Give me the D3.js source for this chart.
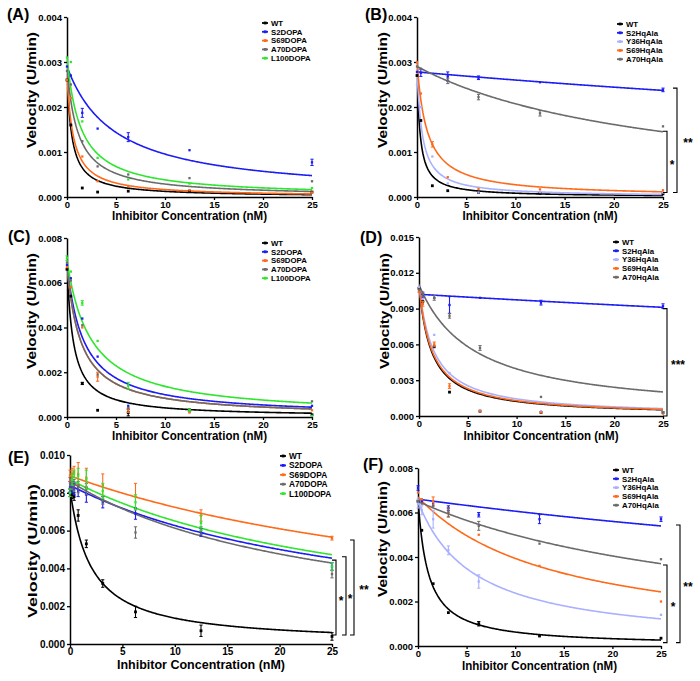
<!DOCTYPE html>
<html>
<head>
<meta charset="utf-8">
<script src="https://cdn.jsdelivr.net/npm/d3@7"></script>
<style>
body { margin: 0; background: #fff; }
text { font-family: "Liberation Sans", Arial, sans-serif; font-weight: bold; }
</style>
</head>
<body>
<svg id="chart" width="700" height="681"></svg>
<script>
// ---- data ----
var conc = [0, 0.39, 1.56, 3.125, 6.25, 12.5, 25];
var concE = [0, 0.2, 0.39, 0.78, 1.56, 3.125, 6.25, 12.5, 25];
var xTicks = [0, 5, 10, 15, 20, 25];

var dopaNames = ["WT", "S2DOPA", "S69DOPA", "A70DOPA", "L100DOPA"];
var hqNames = ["WT", "S2HqAla", "Y36HqAla", "S69HqAla", "A70HqAla"];

// panel A
var aWT = [0.0026, 0.0016, 0.0002, 0.00011, 0.00013, 0.00013, 0.00011];
var aS2 = [0.0029, 0.0027, 0.00187, 0.00152, 0.00133, 0.00104, 0.00077];
var aS69 = [0.0026, 0.0022, 0.0009, 0.00035, 0.00024, 0.00015, 0.0001];
var aA70 = [0.0028, 0.0025, 0.00124, 0.00068, 0.0005, 0.00042, 0.00035];
var aL100 = [0.0031, 0.003, 0.00168, 0.00087, 0.00039, 0.0003, 0.0002];
var aS2Err = [0, 0, 0.0001, 0, 0.0001, 0, 0.00007];
var fitTopA = [0.0028, 0.0029, 0.0027, 0.0029, 0.0031];
var fitIC50A = [0.47, 4.9, 0.65, 1.1, 1.4];

// panel B
var bWT = [0.0027, 0.0017, 0.00025, 0.00014, 0.0001, 0.00008, 0.00007];
var bS2 = [0.00278, 0.00276, null, 0.00268, 0.00265, 0.00255, 0.00238];
var bY36 = [0.0025, 0.002, 0.0009, 0.0003, 0.0001, 0.00011, 0.0001];
var bS69 = [0.003, 0.0023, 0.00117, 0.00044, 0.00018, 0.00017, 0.00015];
var bA70 = [0.0029, 0.00285, null, 0.00258, 0.00222, 0.00186, 0.00157];
var bS2Err = [0, 0.00008, 0, 0.0001, 0.00004, 0, 0.00004];
var bS69Err = [0, 0, 0.00006, 0, 0, 0, 0];
var bA70Err = [0, 0, 0, 0.00006, 0.00006, 0.00006, 0];
var fitTopB = [0.0029, 0.00278, 0.0029, 0.003, 0.0029];
var fitIC50B = [0.3, 144, 0.5, 1.0, 25];

// panel C
var cWT = [0.0066, 0.0054, 0.0015, 0.0003, 0.0002, 0.0003, 0.0001];
var cS2 = [0.0068, 0.0062, 0.0044, 0.0027, 0.0005, 0.00025, 0.0005];
var cS69 = [0.0067, 0.0058, 0.004, 0.0018, 0.0003, 0.0002, 0.0003];
var cA70 = [0.0069, 0.0061, 0.0041, 0.0019, 0.0004, 0.0003, 0.0007];
var cL100 = [0.0071, 0.0065, 0.0051, 0.0034, 0.0014, 0.0003, 0.00005];
var cWTErr = [0, 0, 0.00005, 0, 0.00015, 0.00005, 0];
var cS69Err = [0, 0, 0, 0.0002, 0.0001, 0, 0];
var cL100Err = [0.0001, 0, 0.0001, 0, 0.00015, 0.00005, 0];
var fitTopC = [0.0068, 0.0068, 0.0068, 0.0068, 0.007];
var fitIC50C = [0.64, 1.72, 1.4, 1.4, 2.43];

// panel D
var dWT = [0.0107, 0.0096, 0.0058, 0.002, 0.0004, 0.0003, 0.0003];
var dS2 = [0.0104, 0.0101, 0.0099, 0.0093, 0.0099, 0.0095, 0.0092];
var dY36 = [0.0108, 0.0098, 0.0068, 0.0036, 0.0005, 0.0004, 0.0003];
var dS69 = [0.0104, 0.0094, 0.006, 0.0025, 0.0004, 0.0003, 0.0002];
var dA70 = [0.0106, 0.0102, 0.0099, 0.0084, 0.0057, 0.0016, 0.0003];
var dS2Err = [0, 0.0002, 0, 0.0007, 0, 0.0002, 0.0002];
var dS69Err = [0, 0.0002, 0.0002, 0.0002, 0, 0, 0];
var dA70Err = [0, 0.0002, 0.0002, 0.0002, 0.0002, 0, 0];
var fitTopD = [0.011, 0.0102, 0.011, 0.011, 0.011];
var fitIC50D = [1.25, 208, 1.5, 1.32, 5.6];

// panel E
var eWT = [0.008, 0.0079, 0.0078, 0.0068, 0.0053, 0.0032, 0.0017, 0.0007, 0.0004];
var eS2 = [0.0083, 0.0083, 0.0082, 0.0081, 0.0079, 0.0075, 0.0069, 0.0059, 0.0041];
var eS69 = [0.0089, 0.009, 0.0091, 0.009, 0.0088, 0.0084, 0.0078, 0.0068, 0.0056];
var eA70 = [0.0085, 0.0085, 0.0084, 0.0083, 0.0082, 0.0076, 0.0059, 0.006, 0.0037];
var eL100 = [0.008, 0.0087, 0.009, 0.0089, 0.0087, 0.0081, 0.0075, 0.0064, 0.0041];
var eWTErr = [0.0002, 0.0002, 0.0002, 0.0003, 0.0002, 0.0002, 0.0003, 0.0003, 0.0002];
var eS2Err = [0.0003, 0.0003, 0.0003, 0.0003, 0.0004, 0.0003, 0.0003, 0.0002, 0.0002];
var eS69Err = [0.0003, 0.0003, 0.0003, 0.0006, 0.0005, 0.0006, 0.0007, 0.0003, 0.0001];
var eA70Err = [0.0003, 0.0003, 0.0003, 0.0003, 0.0003, 0.0002, 0.0003, 0.0002, 0.0002];
var eL100Err = [0.0002, 0.0003, 0.0002, 0.0004, 0.0005, 0.0004, 0.0004, 0.0004, 0.0002];
var fitTopE = [0.0082, 0.0084, 0.0089, 0.0086, 0.0087];
var fitIC50E = [2.0, 29.4, 43.5, 24.8, 29.7];

// panel F
var fWT = [0.0065, 0.0052, 0.0028, 0.0015, 0.001, 0.00045, 0.00035];
var fS2 = [0.0071, 0.0065, 0.0064, 0.0062, 0.0059, 0.0057, 0.0057];
var fY36 = [0.0064, 0.0061, 0.0057, 0.0043, 0.0029, null, 0.0014];
var fS69 = [0.0069, 0.0066, 0.0065, 0.006, 0.005, 0.0036, 0.002];
var fA70 = [0.0065, 0.0064, 0.0063, 0.006, 0.0054, 0.0046, 0.0039];
var fWTErr = [0, 0, 0, 0, 0.0001, 0, 0];
var fS2Err = [0.0001, 0, 0, 0.0001, 0.0001, 0.0002, 0.0001];
var fY36Err = [0.0002, 0.0002, 0.0004, 0.0002, 0.0003, 0, 0];
var fS69Err = [0, 0, 0.0002, 0.0002, 0, 0, 0];
var fA70Err = [0, 0, 0, 0.0002, 0.0002, 0, 0];
var fitTopF = [0.0066, 0.0066, 0.0065, 0.0067, 0.0065];
var fitIC50F = [1.05, 112, 5.77, 14.25, 33];

// significance brackets: [low, high] velocity and label
var bracketsB = [[0.0001, 0.00146, "*"], [0.0001, 0.00242, "**"]];
var bracketsD = [[0, 0.009, "***"]];
var bracketsE = [[0.00048, 0.00444, "*"], [0.00048, 0.00462, "*"], [0.00048, 0.0055, "**"]];
var bracketsF = [[0.00015, 0.00364, "*"], [0.00015, 0.00544, "**"]];

// ---- styles ----
var black = "#000000", blue = "#1c1cf5", orange = "#ff6a1a", gray = "#6b6b6b",
    green = "#2fe62f", lightBlue = "#aab0ff";
var dopaColors = [black, blue, orange, gray, green];
var hqColors = [black, blue, lightBlue, orange, gray];

var panels = [
  {label: "(A)", names: dopaNames, colors: dopaColors, xs: conc,
   values: [aWT, aS2, aS69, aA70, aL100], errs: [null, aS2Err, null, null, null],
   top: fitTopA, ic50: fitIC50A, ymax: 0.004, ystep: 0.001, brackets: [],
   box: [67, 312, 197, 17], lab: [7, 20], leg: [262, 23, 8.8],
   yt: [31.5, 90, 116], xt: [189.5, 220, 155], bx: []},
  {label: "(B)", names: hqNames, colors: hqColors, xs: conc,
   values: [bWT, bS2, bY36, bS69, bA70], errs: [null, bS2Err, null, bS69Err, bA70Err],
   top: fitTopB, ic50: fitIC50B, ymax: 0.004, ystep: 0.001, brackets: bracketsB,
   box: [417, 663, 197, 17], lab: [365, 20], leg: [617, 24, 8.8],
   yt: [382.5, 90, 116], xt: [540, 220, 155], bx: [[667, 672], [677, 688]]},
  {label: "(C)", names: dopaNames, colors: dopaColors, xs: conc,
   values: [cWT, cS2, cS69, cA70, cL100], errs: [cWTErr, null, cS69Err, null, cL100Err],
   top: fitTopC, ic50: fitIC50C, ymax: 0.008, ystep: 0.002, brackets: [],
   box: [67, 312, 417, 238], lab: [8, 242], leg: [262, 243, 8.8],
   yt: [31.5, 311, 116], xt: [189.5, 440, 155], bx: []},
  {label: "(D)", names: hqNames, colors: hqColors, xs: conc,
   values: [dWT, dS2, dY36, dS69, dA70], errs: [null, dS2Err, null, dS69Err, dA70Err],
   top: fitTopD, ic50: fitIC50D, ymax: 0.015, ystep: 0.003, brackets: bracketsD,
   box: [419, 663, 416, 237], lab: [360, 243], leg: [613, 242, 8.8],
   yt: [384.5, 311, 116], xt: [541, 439.5, 155], bx: [[667, 678]]},
  {label: "(E)", names: dopaNames, colors: dopaColors, xs: concE,
   values: [eWT, eS2, eS69, eA70, eL100], errs: [eWTErr, eS2Err, eS69Err, eA70Err, eL100Err],
   top: fitTopE, ic50: fitIC50E, ymax: 0.010, ystep: 0.002, brackets: bracketsE,
   box: [70, 332, 644, 455], lab: [8, 463], leg: [280, 456, 9.4],
   yt: [32.5, 551, 134], xt: [201, 668.5, 168], bx: [[336, 341], [346, 350], [354, 364]]},
  {label: "(F)", names: hqNames, colors: hqColors, xs: conc,
   values: [fWT, fS2, fY36, fS69, fA70], errs: [fWTErr, fS2Err, fY36Err, fS69Err, fA70Err],
   top: fitTopF, ic50: fitIC50F, ymax: 0.008, ystep: 0.002, brackets: bracketsF,
   box: [418, 661, 646, 468], lab: [363, 470], leg: [613, 470, 8.8],
   yt: [382.5, 539, 116], xt: [539.5, 670, 155], bx: [[667, 673], [680, 688]]}
];

var svg = d3.select("#chart");

// fitted inhibition curve, v = top / (1 + [I]/IC50)
function fitCurve(top, ic50) {
  return d3.range(0, 25.01, 0.1).map(function(c) { return [c, top / (1 + c / ic50)]; });
}

panels.forEach(function(p, pi) {
  var x = d3.scaleLinear().domain([0, 25]).range([p.box[0], p.box[1]]);
  var y = d3.scaleLinear().domain([0, p.ymax]).range([p.box[2], p.box[3]]);
  var g = svg.append("g");

  // clip for curves
  var clipId = "clip" + pi;
  svg.append("clipPath").attr("id", clipId)
    .append("rect")
    .attr("x", p.box[0]).attr("y", p.box[3] - 2)
    .attr("width", p.box[1] - p.box[0] + 1).attr("height", p.box[2] - p.box[3] + 2);

  // axes
  var xAxis = d3.axisBottom(x).tickValues(xTicks).tickSize(3).tickSizeOuter(0).tickPadding(1)
    .tickFormat(d3.format("d"));
  var yAxis = d3.axisLeft(y).tickValues(d3.range(0, p.ymax + p.ystep / 2, p.ystep))
    .tickSize(3).tickSizeOuter(0).tickPadding(2).tickFormat(d3.format(".3f"));

  var fs = pi == 4 ? 10 : 9.5;
  var gx = g.append("g").attr("transform", "translate(0," + p.box[2] + ")").call(xAxis);
  var gy = g.append("g").attr("transform", "translate(" + p.box[0] + ",0)").call(yAxis);
  [gx, gy].forEach(function(a) {
    a.select(".domain").attr("stroke", "#000").attr("stroke-width", 1.5);
    a.selectAll(".tick line").attr("stroke", "#000").attr("stroke-width", 1.3);
    a.selectAll(".tick text").attr("fill", "#000").style("font-size", fs + "px")
      .style("font-family", '"Liberation Sans", Arial, sans-serif').style("font-weight", "bold");
  });

  // curves
  var line = d3.line().x(function(d) { return x(d[0]); }).y(function(d) { return y(d[1]); });
  p.names.forEach(function(n, si) {
    g.append("path")
      .attr("d", line(fitCurve(p.top[si], p.ic50[si])))
      .attr("fill", "none")
      .attr("stroke", p.colors[si])
      .attr("stroke-width", 1.6)
      .attr("clip-path", "url(#" + clipId + ")");
  });

  // points + error bars
  p.names.forEach(function(n, si) {
    var vals = p.values[si], errs = p.errs[si];
    var col = p.colors[si];
    var pts = p.xs.map(function(c, i) { return {c: c, v: vals[i], e: errs ? errs[i] : 0}; })
      .filter(function(d) { return d.v != null; });
    var pg = g.append("g");
    pts.forEach(function(d) {
      var cx = x(d.c), cy = y(d.v);
      if (d.e > 0) {
        var t = y(d.v + d.e), b = y(Math.max(0, d.v - d.e));
        pg.append("line").attr("x1", cx).attr("x2", cx).attr("y1", t).attr("y2", b)
          .attr("stroke", col).attr("stroke-width", 1.1);
        [t, b].forEach(function(yy) {
          pg.append("line").attr("x1", cx - 1.6).attr("x2", cx + 1.6).attr("y1", yy).attr("y2", yy)
            .attr("stroke", col).attr("stroke-width", 1);
        });
      }
      var s = si == 0 ? 2.8 : 2.3;
      pg.append("rect").attr("x", cx - s / 2).attr("y", cy - s / 2)
        .attr("width", s).attr("height", s).attr("fill", col);
    });
  });

  // legend
  p.names.forEach(function(n, si) {
    var ly = p.leg[1] + si * p.leg[2];
    g.append("line").attr("x1", p.leg[0]).attr("x2", p.leg[0] + 6)
      .attr("y1", ly).attr("y2", ly).attr("stroke", p.colors[si]).attr("stroke-width", 1.8);
    g.append("rect").attr("x", p.leg[0] + 1.8).attr("y", ly - 1.4)
      .attr("width", 2.8).attr("height", 2.8).attr("fill", p.colors[si]);
    g.append("text").attr("x", p.leg[0] + 9).attr("y", ly).attr("dy", "0.35em")
      .style("font-size", (pi == 4 ? 8.3 : 7.8) + "px").attr("fill", "#000").text(n);
  });

  // significance brackets
  p.brackets.forEach(function(b, bi) {
    var bxx = p.bx[bi][0], tx = p.bx[bi][1];
    var y0 = y(b[0]), y1 = y(b[1]);
    g.append("path")
      .attr("d", "M" + (bxx - 4) + "," + y1 + "H" + bxx + "V" + y0 + "H" + (bxx - 4))
      .attr("fill", "none").attr("stroke", "#000").attr("stroke-width", 1.1);
    g.append("text").attr("x", tx).attr("y", (y0 + y1) / 2 + 7)
      .attr("text-anchor", "middle").style("font-size", "12px").text(b[2]);
  });

  // titles
  g.append("text")
    .attr("transform", "translate(" + p.yt[0] + "," + p.yt[1] + ") rotate(-90)")
    .attr("text-anchor", "middle").attr("dy", "0.35em")
    .attr("textLength", p.yt[2]).attr("lengthAdjust", "spacingAndGlyphs")
    .style("font-size", "13px").text("Velocity (U/min)");
  g.append("text")
    .attr("x", p.xt[0]).attr("y", p.xt[1])
    .attr("text-anchor", "middle")
    .attr("textLength", p.xt[2]).attr("lengthAdjust", "spacingAndGlyphs")
    .style("font-size", (pi == 4 ? 12.5 : 12) + "px").text("Inhibitor Concentration (nM)");
  g.append("text").attr("x", p.lab[0]).attr("y", p.lab[1])
    .style("font-size", "16px").text(p.label);
});
</script>
</body>
</html>
